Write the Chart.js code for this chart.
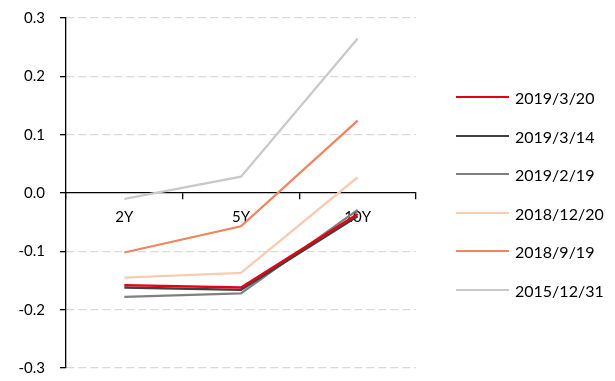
<!DOCTYPE html>
<html>
<head>
<meta charset="utf-8">
<script src="https://cdn.jsdelivr.net/npm/chart.js@4/dist/chart.umd.min.js"></script>
<style>
  html, body { margin: 0; padding: 0; background: #fff; }
  #wrap { position: relative; width: 615px; height: 381px; }
  #legend { position: absolute; left: 456px; top: 0; font-family: Lato, "Open Sans", sans-serif; font-size: 16px; color: #000; }
  .row { position: absolute; left: 0; display: flex; align-items: center; white-space: nowrap; height: 20px; margin-top: -10px; }
  .swatch { width: 53px; height: 2.5px; margin-right: 6px; }
</style>
</head>
<body>
<div id="wrap">
  <canvas id="c" width="615" height="381"></canvas>
  <div id="legend"></div>
</div>
<script>
const categories = ["2Y", "5Y", "10Y"];
const seriesNames = ["2019/3/20", "2019/3/14", "2019/2/19", "2018/12/20", "2018/9/19", "2015/12/31"];
const s20190320 = [-0.158, -0.162, -0.036];
const s20190314 = [-0.162, -0.166, -0.040];
const s20190219 = [-0.178, -0.172, -0.029];
const s20181220 = [-0.145, -0.137, 0.027];
const s20180919 = [-0.102, -0.057, 0.124];
const s20151231 = [-0.010, 0.028, 0.265];
const yTicks = [-0.3, -0.2, -0.1, 0.0, 0.1, 0.2, 0.3];

const seriesValues = [s20190320, s20190314, s20190219, s20181220, s20180919, s20151231];
const colors = ["#E60012", "#404040", "#808080", "#F9CBB3", "#EE8460", "#C9C9C9"];

const datasets = seriesNames.map((name, i) => ({
  label: name,
  data: seriesValues[i],
  borderColor: colors[i],
  backgroundColor: colors[i],
  borderWidth: 2.3,
  pointRadius: 0,
  pointHoverRadius: 0,
  tension: 0,
  fill: false
}));

const FONT = { family: "Lato, 'Open Sans', sans-serif", size: 15 };

new Chart(document.getElementById('c'), {
  type: 'line',
  data: { labels: categories, datasets },
  options: {
    responsive: false,
    animation: false,
    layout: { padding: { top: 18, bottom: 13, left: 0, right: 199 } },
    plugins: { legend: { display: false }, tooltip: { enabled: false } },
    scales: {
      x: {
        type: 'category',
        position: { y: 0 },
        offset: true,
        afterFit: (s) => { s.height = 0; s.paddingLeft = 0; s.paddingRight = 0; },
        grid: { display: true, drawOnChartArea: false, drawTicks: true, tickLength: 6, offset: true, color: '#000', tickColor: '#000', lineWidth: 1.3 },
        border: { display: true, color: '#000', width: 1.3 },
        ticks: { color: '#000', font: FONT, padding: 9, maxRotation: 0 }
      },
      y: {
        min: -0.3, max: 0.3,
        afterFit: (s) => { s.width = 66; s.paddingTop = 0; s.paddingBottom = 0; },
        afterBuildTicks: (s) => { s.ticks = yTicks.map(v => ({ value: v })); },
        grid: {
          drawTicks: true, tickLength: 6,
          color: (ctx) => (ctx.tick && Math.abs(ctx.tick.value) < 1e-9) ? 'rgba(0,0,0,0)' : '#D9D9D9',
          tickColor: '#000', lineWidth: 1.3
        },
        border: { display: true, color: '#000', width: 1.3, dash: [8, 4] },
        ticks: { color: '#000', font: FONT, padding: 15, callback: (v) => Number(v).toFixed(1) }
      }
    }
  }
});

const legendTops = [97, 136, 174, 213, 251, 290];
const leg = document.getElementById('legend');
seriesNames.forEach((name, i) => {
  const row = document.createElement('div');
  row.className = 'row';
  row.style.top = legendTops[i] + 'px';
  const sw = document.createElement('div');
  sw.className = 'swatch';
  sw.style.background = colors[i];
  const t = document.createElement('span');
  t.textContent = name;
  row.appendChild(sw); row.appendChild(t);
  leg.appendChild(row);
});
</script>
</body>
</html>
